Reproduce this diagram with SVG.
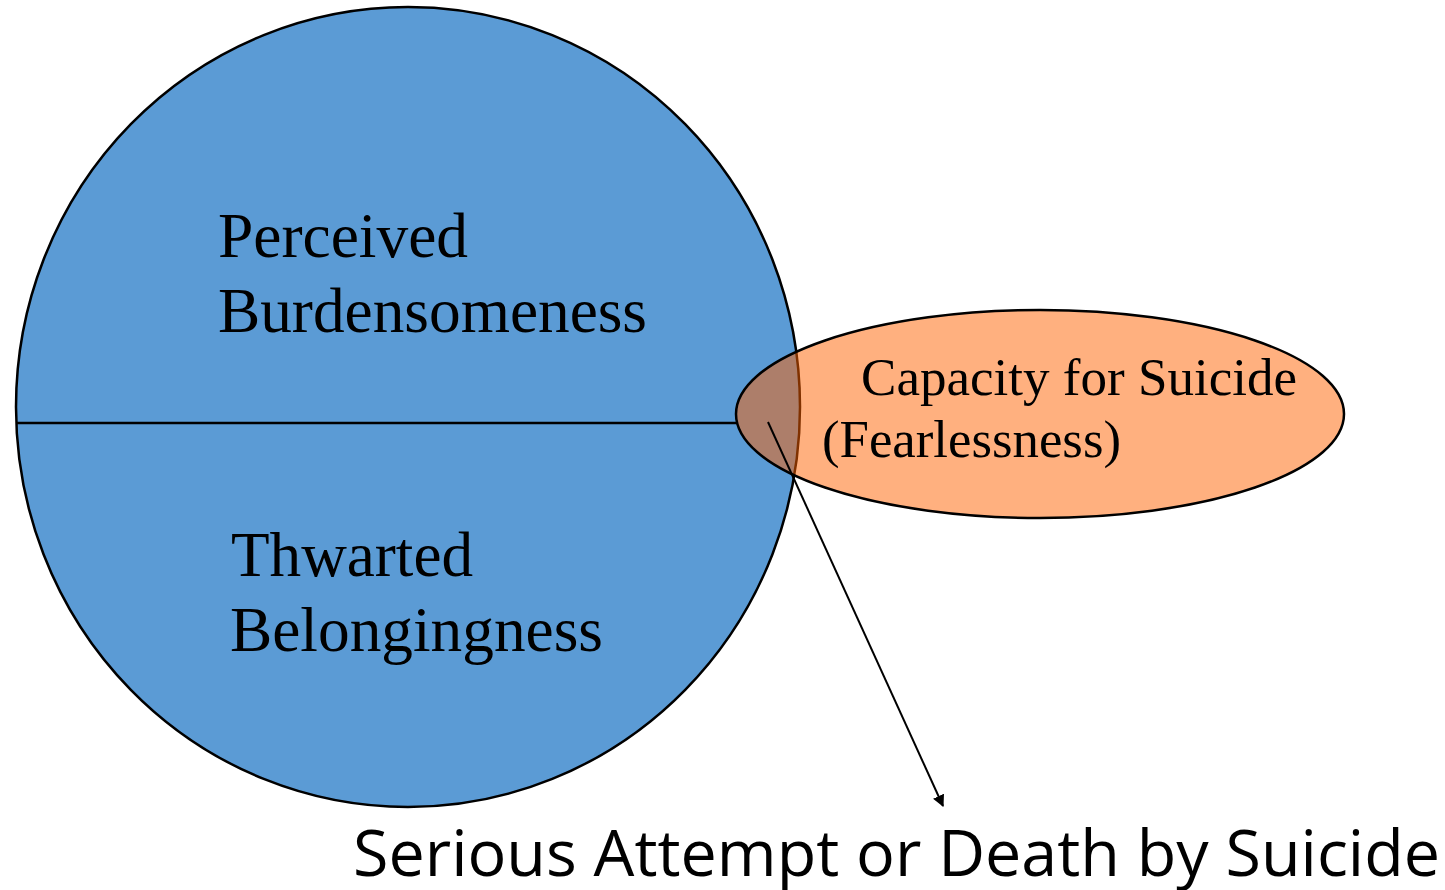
<svg xmlns="http://www.w3.org/2000/svg" width="1445" height="890" viewBox="0 0 1445 890">
  <style>
    .serif { font-family: "Liberation Serif", "Times New Roman", serif; fill: #000; }
    .big { font-size: 64px; }
    .mid { font-size: 53px; }
    .sans { font-family: "Open Sans", "Liberation Sans", sans-serif; font-size: 64px; fill: #000; }
    .edge { stroke: #000; stroke-width: 2.5; }
  </style>
  <defs>
    <marker id="arrow" viewBox="0 0 10 10" refX="9" refY="5" markerWidth="6" markerHeight="6" orient="auto" markerUnits="strokeWidth">
      <path d="M0,0 L10,5 L0,10 z" fill="#000"/>
    </marker>
  </defs>
  <rect width="1445" height="890" fill="#fff"/>
  <g id="risk-circle">
    <ellipse cx="408" cy="407" rx="392" ry="400" fill="#5B9BD5" class="edge"/>
    <line x1="17" y1="423" x2="738" y2="423" class="edge"/>
    <text class="serif big" x="218" y="257" textLength="250" lengthAdjust="spacingAndGlyphs">Perceived</text>
    <text class="serif big" x="218" y="332" textLength="429" lengthAdjust="spacingAndGlyphs">Burdensomeness</text>
    <text class="serif big" x="231" y="576" textLength="242" lengthAdjust="spacingAndGlyphs">Thwarted</text>
    <text class="serif big" x="230" y="651" textLength="373" lengthAdjust="spacingAndGlyphs">Belongingness</text>
  </g>
  <g id="capacity">
    <ellipse cx="1040" cy="414" rx="304" ry="104" fill="#FF6100" fill-opacity="0.5" class="edge"/>
    <text class="serif mid" x="861" y="395" textLength="436" lengthAdjust="spacingAndGlyphs">Capacity for Suicide</text>
    <text class="serif mid" x="822" y="457" textLength="299" lengthAdjust="spacingAndGlyphs">(Fearlessness)</text>
  </g>
  <g id="connectors">
    <line x1="768" y1="422" x2="943" y2="806" stroke="#000" stroke-width="2" marker-end="url(#arrow)"/>
  </g>
  <g id="outcome">
    <text class="sans" x="353" y="876" textLength="1087" lengthAdjust="spacingAndGlyphs">Serious Attempt or Death by Suicide</text>
  </g>
</svg>
